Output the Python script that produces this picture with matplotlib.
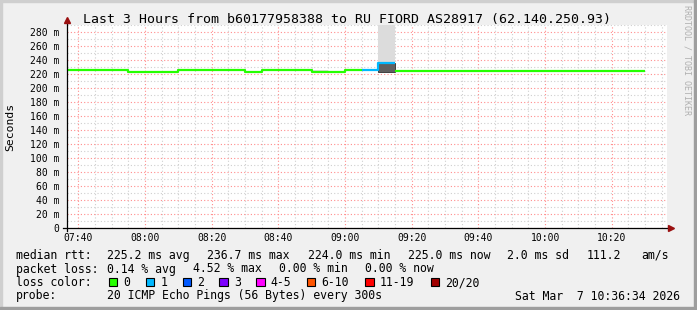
import numpy as np
import matplotlib
matplotlib.use("Agg")
import matplotlib.pyplot as plt
from matplotlib.patches import Rectangle
from matplotlib.ticker import MultipleLocator, FixedLocator, FuncFormatter

# --- data: 5-minute RRD steps, start of each step in minutes after midnight ---
STEP_START = [455, 460, 465, 470, 475, 480, 485, 490, 495, 500, 505, 510,
              515, 520, 525, 530, 535, 540, 545, 550, 555, 560, 565, 570,
              575, 580, 585, 590, 595, 600, 605, 610, 615, 620, 625]
STEP = 5

# median rtt per step (ms)
MEDIAN = [225.7, 225.7, 225.7, 225.7, 223.3, 223.3, 223.3, 225.7, 225.7,
          225.7, 225.7, 223.3, 225.5, 225.5, 225.5, 223.5, 223.5, 225.5,
          226.8, 236.7, 225.3, 225.3, 225.3, 225.3, 225.3, 225.3, 225.3,
          225.3, 225.3, 225.3, 225.3, 225.3, 225.3, 225.3, 225.3]
# lost pings per step (out of 20)
LOSS = [0, 0, 0, 0, 0, 0, 0, 0, 0, 0, 0, 0, 0, 0, 0, 0, 0, 0,
        1, 1, 0, 0, 0, 0, 0, 0, 0, 0, 0, 0, 0, 0, 0, 0, 0]

# visible smoke bands (start of step, low, high)
SMOKE_LIGHT_T = [530, 550]
SMOKE_LIGHT_LO = [223.5, 236.7]
SMOKE_LIGHT_HI = [226.5, 300.0]
SMOKE_DARK_T = [550]
SMOKE_DARK_LO = [224.0]
SMOKE_DARK_HI = [236.7]

LOSS_BUCKETS = ["0", "1", "2", "3", "4-5", "6-10", "11-19", "20/20"]
LOSS_COLORS = ["#26ff00", "#00b8ff", "#0059ff", "#7e00ff", "#ff00ff",
               "#ff5500", "#ff0000", "#a10000"]

TIME_START = 7 * 60 + 36 + 34 / 60   # 07:36:34
TIME_END = 10 * 60 + 36 + 34 / 60    # 10:36:34
Y_MAX = 290

W, H = 697, 310
MONO = "DejaVu Sans Mono"


def fx(px):
    return px / W


def fy(py):
    return 1 - py / H


fig = plt.figure(figsize=(W / 100, H / 100), dpi=100, facecolor="#f0f0f0")
ax = fig.add_axes([fx(67), fy(228.3), fx(600), (228.3 - 25.3) / H])
ax.set_facecolor("white")
ax.set_xlim(TIME_START, TIME_END)
ax.set_ylim(0, Y_MAX)

# grid
ax.xaxis.set_major_locator(MultipleLocator(20))
ax.xaxis.set_minor_locator(MultipleLocator(5))
ax.yaxis.set_major_locator(FixedLocator(range(0, 281, 20)))
ax.yaxis.set_minor_locator(MultipleLocator(10))
ax.grid(which="minor", color="#cfcfcf", linestyle=(0, (1, 2)), linewidth=0.8)
ax.grid(which="major", color="#ff8c8c", linestyle=(0, (1, 2)), linewidth=0.8)
ax.set_axisbelow(True)

ax.xaxis.set_major_formatter(FuncFormatter(lambda v, p: f"{int(v) // 60:02d}:{int(v) % 60:02d}"))
ax.yaxis.set_major_formatter(FuncFormatter(lambda v, p: "0" if v == 0 else f"{int(v)} m"))
ax.tick_params(which="both", length=0)
ax.tick_params(axis="x", pad=3.5, labelsize=7)
ax.tick_params(axis="y", pad=5.5, labelsize=7)
for lab in ax.get_xticklabels() + ax.get_yticklabels():
    lab.set_fontfamily(MONO)
for s in ax.spines.values():
    s.set_visible(False)

# smoke
ax.bar(SMOKE_LIGHT_T, np.subtract(SMOKE_LIGHT_HI, SMOKE_LIGHT_LO), bottom=SMOKE_LIGHT_LO,
       width=STEP, align="edge", color="#dcdcdc", linewidth=0, zorder=2)
ax.bar(SMOKE_DARK_T, np.subtract(SMOKE_DARK_HI, SMOKE_DARK_LO), bottom=SMOKE_DARK_LO,
       width=STEP, align="edge", color="#606060", edgecolor="#303030", linewidth=0.6, zorder=2)

# median line coloured by loss
edges = np.append(STEP_START, STEP_START[-1] + STEP)
med = np.array(MEDIAN)
loss = np.array(LOSS)
for k, col in [(0, LOSS_COLORS[0]), (1, LOSS_COLORS[1])]:
    vals = np.where(loss == k, med, np.nan)
    ax.step(edges, np.append(vals, vals[-1]), where="post", color=col,
            linewidth=1.6, solid_capstyle="butt", zorder=3)

# axis lines + arrows
ax.plot([0, 0], [-0.012, 1.02], transform=ax.transAxes, color="black", lw=0.9, clip_on=False, zorder=4)
ax.plot([-0.007, 1.003], [0, 0], transform=ax.transAxes, color="black", lw=0.9, clip_on=False, zorder=4)
ax.plot([0], [1.025], transform=ax.transAxes, marker="^", color="#9a1010", markersize=4.5,
        clip_on=False, zorder=5)
ax.plot([1.007], [0], transform=ax.transAxes, marker=">", color="#9a1010", markersize=4.5,
        clip_on=False, zorder=5)

# texts
fig.text(fx(347), fy(19), "Last 3 Hours from b60177958388 to RU FIORD AS28917 (62.140.250.93)",
         family=MONO, fontsize=9.5, ha="center", va="center")
fig.text(fx(10), fy(127), "Seconds", family=MONO, fontsize=8.2, rotation=90,
         ha="center", va="center")
fig.text(fx(687), fy(5), "RRDTOOL / TOBI OETIKER", family=MONO, fontsize=6, rotation=270,
         ha="center", va="top", color="#b0b0b0")

rows = [259, 272.5, 286, 299.5]   # baselines
fs = 8.3


def legend_text(x, row, s, **kw):
    fig.text(fx(x), fy(row), s, family=MONO, fontsize=fs, va="baseline", **kw)


legend_text(16, rows[0], "median rtt:")
for x, s in [(107.3, "225.2 ms avg"), (207.3, "236.7 ms max"), (308.3, "224.0 ms min"),
             (407.7, "225.0 ms now"), (506.7, "2.0 ms sd"), (586.7, "111.2"), (641.7, "am/s")]:
    legend_text(x, rows[0], s)

legend_text(16, rows[1], "packet loss:")
for x, s in [(107.3, "0.14 % avg"), (193.3, "4.52 % max"), (279.3, "0.00 % min"),
             (365, "0.00 % now")]:
    legend_text(x, rows[1], s)

legend_text(16, rows[2], "loss color:")
sq_x = [108.7, 145.7, 182.7, 219.3, 256, 306.7, 365.3, 430.7]
for x, lab, col in zip(sq_x, LOSS_BUCKETS, LOSS_COLORS):
    fig.add_artist(Rectangle((fx(x), fy(rows[2])), fx(8.5), 8.5 / H,
                             facecolor=col, edgecolor="black", linewidth=0.8,
                             transform=fig.transFigure))
    legend_text(x + 14.5, rows[2], lab)

legend_text(16, rows[3], "probe:")
legend_text(107.3, rows[3], "20 ICMP Echo Pings (56 Bytes) every 300s")
legend_text(680, rows[3], "Sat Mar  7 10:36:34 2026", ha="right")

# border shading
fig.add_artist(Rectangle((0, fy(2)), 1, 2 / H, color="#cfcfcf", transform=fig.transFigure))
fig.add_artist(Rectangle((0, 0), fx(2), 1, color="#cfcfcf", transform=fig.transFigure))
fig.add_artist(Rectangle((0, 0), 1, 3 / H, color="#9e9e9e", transform=fig.transFigure))
fig.add_artist(Rectangle((1 - fx(3), 0), fx(3), 1, color="#9e9e9e", transform=fig.transFigure))

fig.savefig("out.png", dpi=100, facecolor=fig.get_facecolor())
